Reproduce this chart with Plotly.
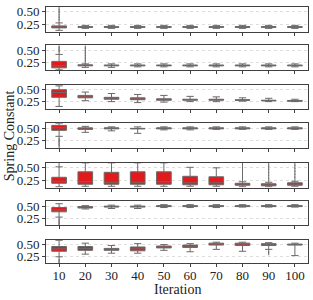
import plotly.graph_objects as go

iterations = ["10", "20", "30", "40", "50", "60", "70", "80", "90", "100"]
tick_vals = [0.25, 0.50]
tick_text = ["0.25", "0.50"]

# per-panel box statistics (rows = panels top to bottom)
q1 = [
    [0.18, 0.19, 0.19, 0.19, 0.19, 0.19, 0.19, 0.19, 0.19, 0.19],
    [0.15, 0.19, 0.19, 0.19, 0.19, 0.19, 0.19, 0.19, 0.19, 0.19],
    [0.34, 0.33, 0.30, 0.29, 0.28, 0.28, 0.28, 0.28, 0.27, 0.26],
    [0.46, 0.48, 0.49, 0.49, 0.49, 0.49, 0.49, 0.49, 0.49, 0.49],
    [0.19, 0.17, 0.17, 0.17, 0.17, 0.16, 0.16, 0.15, 0.14, 0.15],
    [0.38, 0.46, 0.48, 0.48, 0.49, 0.49, 0.49, 0.49, 0.49, 0.49],
    [0.36, 0.38, 0.38, 0.37, 0.43, 0.44, 0.49, 0.48, 0.48, 0.49],
]
med = [
    [0.20, 0.20, 0.20, 0.20, 0.20, 0.20, 0.20, 0.20, 0.20, 0.20],
    [0.19, 0.20, 0.20, 0.20, 0.20, 0.20, 0.20, 0.20, 0.20, 0.20],
    [0.44, 0.35, 0.32, 0.30, 0.29, 0.29, 0.29, 0.28, 0.27, 0.265],
    [0.51, 0.49, 0.50, 0.495, 0.50, 0.50, 0.50, 0.50, 0.50, 0.50],
    [0.23, 0.22, 0.21, 0.21, 0.22, 0.20, 0.20, 0.16, 0.16, 0.17],
    [0.42, 0.475, 0.49, 0.49, 0.50, 0.50, 0.50, 0.50, 0.50, 0.50],
    [0.41, 0.42, 0.40, 0.41, 0.45, 0.465, 0.51, 0.51, 0.50, 0.50],
]
q3 = [
    [0.22, 0.205, 0.205, 0.205, 0.205, 0.205, 0.205, 0.205, 0.205, 0.205],
    [0.28, 0.21, 0.205, 0.205, 0.205, 0.205, 0.205, 0.205, 0.205, 0.205],
    [0.50, 0.38, 0.34, 0.33, 0.31, 0.30, 0.30, 0.29, 0.28, 0.275],
    [0.56, 0.51, 0.51, 0.50, 0.51, 0.51, 0.51, 0.51, 0.51, 0.51],
    [0.31, 0.42, 0.41, 0.42, 0.42, 0.33, 0.32, 0.19, 0.18, 0.20],
    [0.47, 0.49, 0.50, 0.50, 0.51, 0.51, 0.51, 0.51, 0.51, 0.51],
    [0.46, 0.46, 0.42, 0.45, 0.47, 0.49, 0.53, 0.53, 0.52, 0.51],
]
lo = [
    [0.13, 0.17, 0.17, 0.17, 0.17, 0.17, 0.17, 0.17, 0.17, 0.17],
    [0.11, 0.16, 0.16, 0.17, 0.17, 0.17, 0.17, 0.17, 0.17, 0.17],
    [0.15, 0.27, 0.25, 0.23, 0.24, 0.25, 0.25, 0.26, 0.25, 0.25],
    [0.34, 0.42, 0.45, 0.40, 0.47, 0.47, 0.48, 0.48, 0.48, 0.48],
    [0.12, 0.13, 0.13, 0.13, 0.13, 0.13, 0.13, 0.12, 0.12, 0.13],
    [0.27, 0.44, 0.45, 0.45, 0.47, 0.47, 0.47, 0.48, 0.48, 0.48],
    [0.245, 0.30, 0.32, 0.32, 0.38, 0.35, 0.40, 0.36, 0.40, 0.27],
]
hi = [
    [0.28, 0.23, 0.23, 0.23, 0.23, 0.23, 0.23, 0.23, 0.23, 0.23],
    [0.42, 0.23, 0.23, 0.23, 0.23, 0.23, 0.23, 0.23, 0.23, 0.23],
    [0.58, 0.45, 0.42, 0.40, 0.38, 0.36, 0.35, 0.33, 0.32, 0.30],
    [0.60, 0.54, 0.53, 0.53, 0.53, 0.53, 0.53, 0.53, 0.53, 0.53],
    [0.52, 0.60, 0.60, 0.60, 0.60, 0.51, 0.50, 0.22, 0.21, 0.23],
    [0.55, 0.51, 0.52, 0.52, 0.53, 0.53, 0.53, 0.53, 0.53, 0.53],
    [0.59, 0.53, 0.48, 0.52, 0.50, 0.52, 0.55, 0.55, 0.54, 0.53],
]

# outlier points: (panel index, iteration, values)
outliers = [
    (0, "10", [0.32, 0.37, 0.42, 0.47, 0.52, 0.57]),
    (1, "10", [0.46, 0.50, 0.54, 0.58]),
    (1, "20", [0.27, 0.32, 0.37, 0.42, 0.47, 0.52, 0.57]),
    (3, "10", [0.30, 0.26, 0.22, 0.18, 0.14]),
    (4, "10", [0.56]),
    (4, "80", [0.27, 0.33, 0.39, 0.45, 0.51, 0.57]),
    (4, "90", [0.26, 0.32, 0.38, 0.44, 0.50, 0.56]),
    (4, "100", [0.28, 0.34, 0.40, 0.46, 0.52, 0.58]),
    (5, "10", [0.23, 0.19, 0.15, 0.12]),
    (6, "10", [0.20, 0.16, 0.12]),
    (6, "90", [0.36, 0.32]),
]

W, H = 313, 300
left_px, right_px = 46, 308
tops = [4, 43, 83, 122, 162, 201, 240]
bottoms = [29, 68, 107, 147, 187, 225, 264]

RED = "#e31a1c"
GRAY = "#6a6a6a"
FONT = "Liberation Serif"

fig = go.Figure()
layout_axes = {}
n = len(tops)
for i in range(n):
    sfx = "" if i == 0 else str(i + 1)
    xa, ya = "x" + sfx, "y" + sfx
    fig.add_trace(go.Box(
        x=iterations, q1=q1[i], median=med[i], q3=q3[i],
        lowerfence=lo[i], upperfence=hi[i],
        fillcolor=RED, line=dict(color=GRAY, width=1),
        whiskerwidth=0.5, boxpoints=False, showlegend=False,
        xaxis=xa, yaxis=ya,
    ))
    layout_axes["xaxis" + sfx] = dict(
        domain=[left_px / W, right_px / W], anchor=ya,
        type="category", categoryorder="array", categoryarray=iterations,
        range=[-0.5, len(iterations) - 0.5],
        showline=True, mirror=True, linecolor="#404040", linewidth=1,
        ticks="outside", ticklen=3, tickcolor="#404040",
        showticklabels=(i == n - 1), showgrid=False, zeroline=False,
        tickfont=dict(family=FONT, size=13, color="#222"),
        ticklabelstandoff=-3,
    )
    layout_axes["yaxis" + sfx] = dict(
        domain=[1 - bottoms[i] / H, 1 - tops[i] / H], anchor=xa,
        range=[0.105, 0.6], tickvals=tick_vals, ticktext=tick_text,
        showline=True, mirror=True, linecolor="#404040", linewidth=1,
        ticks="outside", ticklen=3, tickcolor="#404040",
        showgrid=True, gridcolor="#dddddd", griddash="dot", gridwidth=1,
        zeroline=False,
        tickfont=dict(family=FONT, size=13, color="#222"),
    )

for p, it, vals in outliers:
    sfx = "" if p == 0 else str(p + 1)
    fig.add_trace(go.Scatter(
        x=[it] * len(vals), y=vals, mode="markers",
        marker=dict(symbol="line-ns", size=3, line=dict(color=GRAY, width=1)),
        showlegend=False, hoverinfo="skip",
        xaxis="x" + sfx, yaxis="y" + sfx,
    ))

fig.update_layout(
    width=W, height=H, margin=dict(l=0, r=0, t=0, b=0),
    paper_bgcolor="white", plot_bgcolor="white",
    boxgap=0.2,
    font=dict(family=FONT, size=13, color="#222"),
    annotations=[
        dict(text="Spring Constant", x=9 / W, y=1 - 135 / H, xref="paper", yref="paper",
             xanchor="center", yanchor="middle",
             textangle=-90, showarrow=False, font=dict(family=FONT, size=14, color="#222")),
        dict(text="Iteration", x=177 / W, y=1 - 290 / H, xref="paper", yref="paper",
             xanchor="center", yanchor="middle",
             showarrow=False, font=dict(family=FONT, size=14, color="#222")),
    ],
    **layout_axes,
)

fig.write_html("out.html", config={"displayModeBar": False},
               post_script="document.body.style.margin='0';")
